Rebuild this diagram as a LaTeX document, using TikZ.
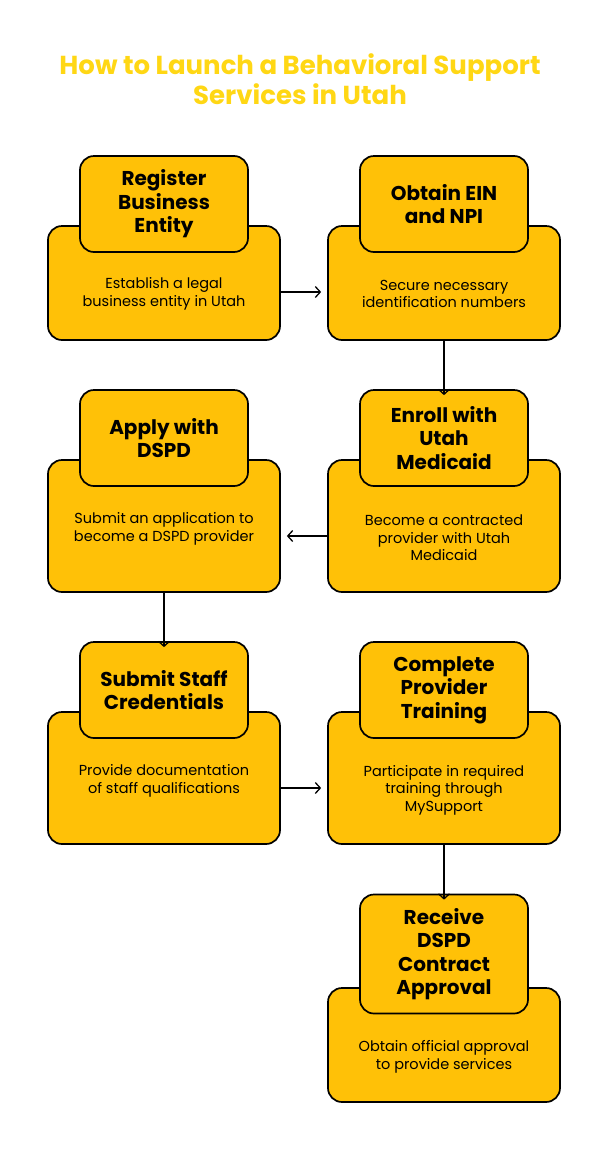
\documentclass[tikz,border=0pt]{standalone}
\usepackage{fontspec}
\setmainfont{Poppins}
\usetikzlibrary{arrows.meta}
\definecolor{boxfill}{RGB}{255,193,7}
\definecolor{titlecol}{RGB}{255,215,20}

\begin{document}
\begin{tikzpicture}[x=1pt,y=-1pt,-{Straight Barb[length=5pt,width=11pt]}]
    \tikzstyle{bigbox}=[draw,fill=boxfill,rounded corners=14pt,line width=1.7pt,minimum width=232pt,inner sep=0pt];
    \tikzstyle{headbox}=[draw,fill=boxfill,rounded corners=14pt,line width=1.7pt,minimum width=168pt,minimum height=96pt,inner sep=0pt,align=center,font=\bfseries\fontsize{20}{23.5}\selectfont];
    \tikzstyle{body}=[align=center,inner sep=0pt,font=\fontsize{14.5}{17.5}\selectfont];
    \tikzstyle{every path}=[line width=1.3pt];

    \useasboundingbox[fill=white] (0,0) rectangle (608,1173);

    \node at (300,79) (title) [align=center,text=titlecol,font=\bfseries\fontsize{26}{29.5}\selectfont]
        {How to Launch a Behavioral Support\\Services in Utah};

    % row 1
    \node at (164,283) (b1) [bigbox,minimum height=114pt] {};
    \node at (164,204) (h1) [headbox] {Register\\Business\\Entity};
    \node at (164,294) (t1) [body] {Establish a legal\\business entity in Utah};
    \node at (444,283) (b2) [bigbox,minimum height=114pt] {};
    \node at (444,204) (h2) [headbox] {Obtain EIN\\and NPI};
    \node at (444,294) (t2) [body] {Secure necessary\\identification numbers};

    % row 2
    \node at (444,526) (b3) [bigbox,minimum height=132pt] {};
    \node at (444,438) (h3) [headbox] {Enroll with\\Utah\\Medicaid};
    \node at (444,538) (t3) [body] {Become a contracted\\provider with Utah\\Medicaid};
    \node at (164,526) (b4) [bigbox,minimum height=132pt] {};
    \node at (164,438) (h4) [headbox] {Apply with\\DSPD};
    \node at (164,529) (t4) [body] {Submit an application to\\become a DSPD provider};

    % row 3
    \node at (164,778) (b5) [bigbox,minimum height=132pt] {};
    \node at (164,690) (h5) [headbox] {Submit Staff\\Credentials};
    \node at (164,781) (t5) [body] {Provide documentation\\of staff qualifications};
    \node at (444,778) (b6) [bigbox,minimum height=132pt] {};
    \node at (444,690) (h6) [headbox] {Complete\\Provider\\Training};
    \node at (444,790) (t6) [body] {Participate in required\\training through\\MySupport};

    % row 4
    \node at (444,1045) (b7) [bigbox,minimum height=114pt] {};
    \node at (444,954) (h7) [headbox,minimum height=119pt] {Receive\\DSPD\\Contract\\Approval};
    \node at (444,1057) (t7) [body] {Obtain official approval\\to provide services};

    \draw ([yshift=2pt]b1.east |- t2) to ([xshift=-6pt,yshift=2pt]b2.west |- t2);
    \draw (b2.south) to ([yshift=-6pt]h3.north);
    \draw ([yshift=2pt]b3.west |- t3) to ([xshift=6pt,yshift=2pt]b4.east |- t3);
    \draw (b4.south) to ([yshift=-6pt]h5.north);
    \draw ([yshift=2pt]b5.east |- t6) to ([xshift=-6pt,yshift=2pt]b6.west |- t6);
    \draw (b6.south) to ([yshift=-6pt]h7.north);
\end{tikzpicture}
\end{document}
